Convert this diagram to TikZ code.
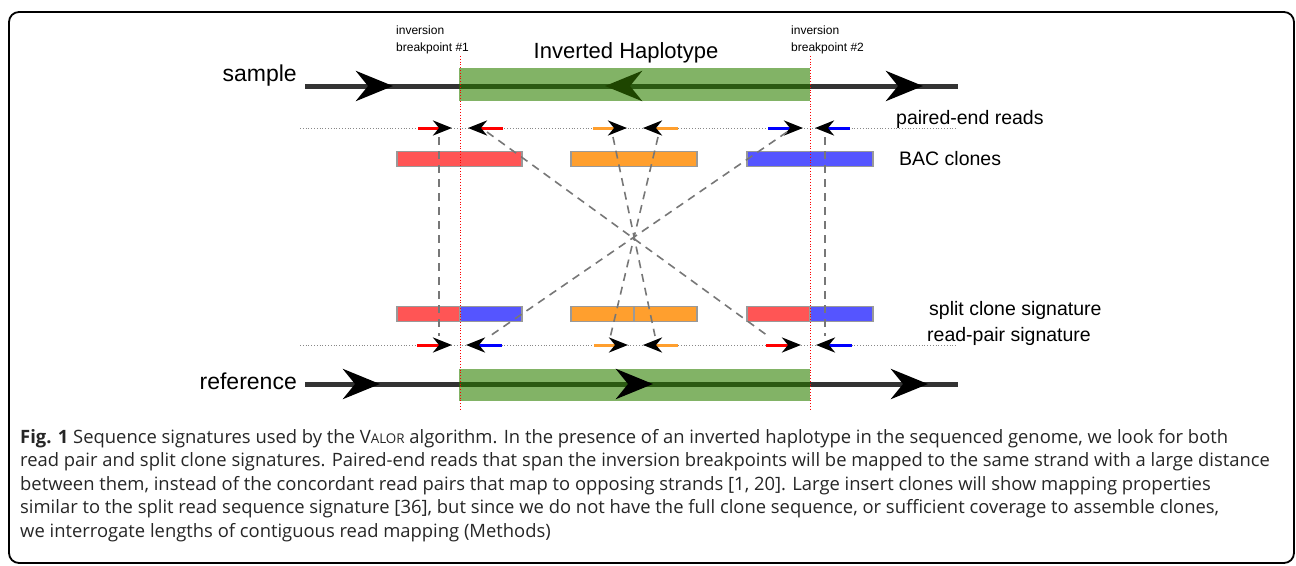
\documentclass[tikz,border=0pt]{standalone}
\usepackage{fontspec}
\setmainfont{Liberation Sans}
\newfontfamily\capfont{Open Sans}
\usetikzlibrary{arrows.meta}

\definecolor{strandgray}{HTML}{333333}
\definecolor{hapgreen}{HTML}{82B366}
\definecolor{hapdark}{HTML}{2B5A12}
\definecolor{haptip}{HTML}{1E4500}
\definecolor{bacred}{HTML}{FF5555}
\definecolor{bacorange}{HTML}{FF9F2E}
\definecolor{bacblue}{HTML}{5555FF}
\definecolor{readorange}{HTML}{FF9F2E}
\definecolor{clonegray}{HTML}{999999}
\definecolor{linkgray}{HTML}{777777}
\definecolor{guidegray}{HTML}{888888}

\begin{document}
\begin{tikzpicture}[x=1pt,y=-1pt,
    big label/.style={inner sep=0pt,font=\fontsize{23}{26}\selectfont},
    side label/.style={inner sep=0pt,anchor=west,font=\fontsize{19.5}{22}\selectfont},
    bp label/.style={inner sep=0pt,anchor=north west,align=left,font=\fontsize{12}{16.5}\selectfont},
    caption line/.style={inner sep=0pt,anchor=base west,font=\capfont\fontsize{18.4}{20}\selectfont,text=black!85},
    strand/.style={line width=5pt,draw=strandgray},
    strand tip/.style={-{Stealth[length=37pt,width=30pt,inset=12pt,color=#1]}},
    clone box/.style={draw=clonegray,line width=1.5pt,minimum height=15pt,inner sep=0pt},
    read/.style={line width=3pt,-{Stealth[length=19pt,width=15pt,inset=6pt,color=black]}},
    bp line/.style={red,dotted,line width=0.8pt},
    guide/.style={draw=guidegray,dotted,line width=0.8pt},
    link/.style={draw=linkgray,dash pattern=on 8pt off 6pt,line width=1.6pt}]
\useasboundingbox (0,0) rectangle (1296,565);
\draw[line width=1.8pt,rounded corners=10pt] (9,12) rectangle (1294,563);

\node[big label,anchor=east] (sample) at (297,76) {sample};
\node[big label,anchor=east] (reference) at (297,381) {reference};
\node[inner sep=0pt,font=\fontsize{22}{24}\selectfont] (inverted) at (626,53) {Inverted Haplotype};
\node[bp label] (bp1) at (396,26) {inversion\\breakpoint \#1};
\node[bp label] (bp2) at (791,26) {inversion\\breakpoint \#2};
\node[side label] (pe) at (896,119) {paired-end reads};
\node[side label] (bac) at (899,159) {BAC clones};
\node[side label] (split) at (929,310) {split clone signature};
\node[side label] (rp) at (927,336) {read-pair signature};

% sample strand
\draw[strand] (305,86) -- (958,86);
\fill[hapgreen] (459,68) rectangle (810,101);
\draw[line width=5pt,hapdark] (459,86) -- (810,86);
\draw[strand,strand tip=black] (357,86) -- (393,86);
\draw[strand,draw=hapdark,strand tip=haptip] (643,86) -- (605,86);
\draw[strand,strand tip=black] (887,86) -- (923,86);

% reference strand
\draw[strand] (305,384) -- (958,384);
\fill[hapgreen] (459,369) rectangle (810,401);
\draw[line width=5pt,hapdark] (459,384) -- (810,384);
\draw[strand,strand tip=black] (345,384) -- (380,384);
\draw[strand,draw=hapdark,strand tip=black] (617,384) -- (653,384);
\draw[strand,strand tip=black] (892,384) -- (928,384);

% read rows
\draw[guide] (300,128) -- (957,128);
\draw[guide] (300,345) -- (957,345);
\draw[read,red] (418,128) -- (452,128);
\draw[read,red] (503,128) -- (468,128);
\draw[read,readorange] (593,128) -- (627,128);
\draw[read,readorange] (678,128) -- (643,128);
\draw[read,blue] (768,128) -- (803,128);
\draw[read,blue] (850,128) -- (815,128);

\draw[read,red] (417,345) -- (452,345);
\draw[read,blue] (502,345) -- (466,345);
\draw[read,readorange] (594,345) -- (628,345);
\draw[read,readorange] (678,345) -- (643,345);
\draw[read,red] (766,345) -- (801,345);
\draw[read,blue] (852,345) -- (816,345);

% clones
\node[clone box,fill=bacred,minimum width=125pt] (bacL) at (459.5,159) {};
\node[clone box,fill=bacorange,minimum width=126pt] (bacM) at (634,159) {};
\node[clone box,fill=bacblue,minimum width=126pt] (bacR) at (810,159) {};

\node[clone box,fill=bacred,minimum width=63pt] (splitLa) at (428.5,314) {};
\node[clone box,fill=bacblue,minimum width=62pt] (splitLb) at (491,314) {};
\node[clone box,fill=bacorange,minimum width=63pt] (splitMa) at (602.5,314) {};
\node[clone box,fill=bacorange,minimum width=63pt] (splitMb) at (665.5,314) {};
\node[clone box,fill=bacred,minimum width=63pt] (splitRa) at (778.5,314) {};
\node[clone box,fill=bacblue,minimum width=63pt] (splitRb) at (841.5,314) {};

% links
\coordinate (topA) at (439,137);
\coordinate (botA) at (439,336);
\coordinate (topB) at (487,132);
\coordinate (botB) at (768,336);
\coordinate (topC) at (613,137);
\coordinate (botC) at (655,336);
\coordinate (topD) at (658,137);
\coordinate (botD) at (610,338);
\coordinate (topE) at (787,132);
\coordinate (botE) at (487,338);
\coordinate (topF) at (825,137);
\coordinate (botF) at (825,336);
\foreach \a/\b in {topA/botA,topB/botB,topC/botC,topD/botD,topE/botE,topF/botF}
  \draw[link] (\a) -- (\b);

% breakpoints
\draw[bp line] (460,56) -- (460,410);
\draw[bp line] (810,56) -- (810,410);

\node[caption line] (cap1) at (20,443) {\textbf{Fig. 1} Sequence signatures used by the V{\fontsize{13.4}{13}\selectfont ALOR} algorithm. In the presence of an inverted haplotype in the sequenced genome, we look for both};
\node[caption line] (cap2) at (20,466.5) {read pair and split clone signatures. Paired-end reads that span the inversion breakpoints will be mapped to the same strand with a large distance};
\node[caption line] (cap3) at (20,490) {between them, instead of the concordant read pairs that map to opposing strands [1, 20]. Large insert clones will show mapping properties};
\node[caption line] (cap4) at (20,513.5) {similar to the split read sequence signature [36], but since we do not have the full clone sequence, or sufficient coverage to assemble clones,};
\node[caption line] (cap5) at (20,537) {we interrogate lengths of contiguous read mapping (Methods)};
\end{tikzpicture}
\end{document}
